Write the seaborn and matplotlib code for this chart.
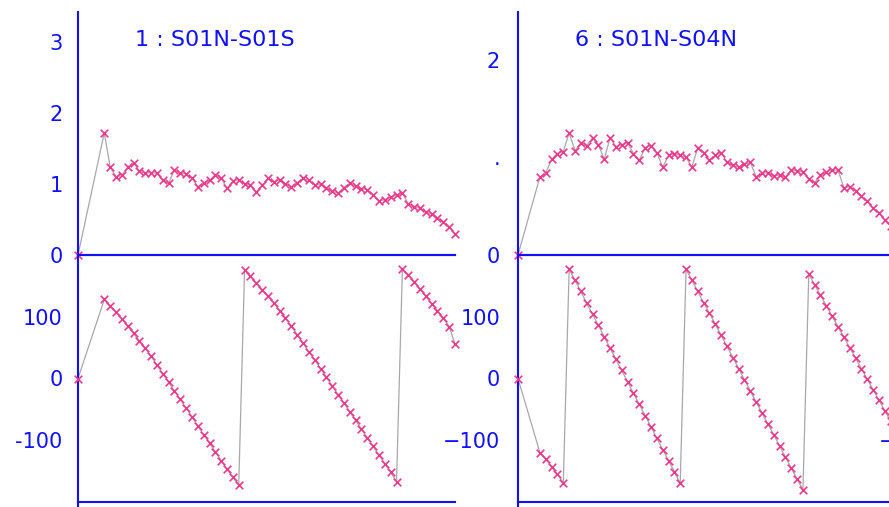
import matplotlib
matplotlib.use("Agg")
import matplotlib.pyplot as plt
import matplotlib.lines as mlines
import pandas as pd
import seaborn as sns

# ---- data -----------------------------------------------------------------
# Frequency bins: DC sample first, then unit steps from the first usable bin.
left_first_bin = 4.5
right_first_bin = 3.75

# Pair 1 : S01N-S01S
amp_pair1 = [
    0.00,
    1.72, 1.24, 1.10, 1.12, 1.24, 1.30, 1.18, 1.15, 1.16, 1.15,
    1.05, 1.01, 1.20, 1.15, 1.14, 1.08, 0.96, 1.02, 1.05, 1.13,
    1.08, 0.94, 1.04, 1.06, 1.00, 0.98, 0.89, 0.98, 1.08, 1.03,
    1.06, 1.00, 0.96, 1.02, 1.08, 1.05, 0.98, 1.00, 0.94, 0.90,
    0.87, 0.95, 1.01, 0.97, 0.93, 0.92, 0.85, 0.76, 0.78, 0.82,
    0.84, 0.87, 0.72, 0.68, 0.66, 0.60, 0.58, 0.52, 0.47, 0.40,
    0.30,
]
phase_pair1 = [
    0,
    128, 118, 107, 96, 85, 73, 61, 49, 36, 22,
    8, -6, -20, -34, -48, -62, -77, -91, -105, -119,
    -133, -147, -160, -172, 176, 166, 155, 144, 133, 122,
    110, 98, 85, 71, 57, 43, 30, 16, 2, -12,
    -26, -40, -54, -68, -82, -96, -110, -124, -138, -152,
    -167, 178, 168, 157, 145, 133, 121, 110, 98, 84,
    56,
]

# Pair 6 : S01N-S04N
amp_pair6 = [
    0.00,
    0.80, 0.84, 0.98, 1.04, 1.06, 1.25, 1.07, 1.15, 1.12, 1.20,
    1.13, 0.98, 1.20, 1.11, 1.13, 1.15, 1.04, 0.97, 1.10, 1.12,
    1.05, 0.90, 1.02, 1.04, 1.02, 1.00, 0.90, 1.10, 1.05, 0.97,
    1.02, 1.05, 0.95, 0.92, 0.90, 0.93, 0.95, 0.80, 0.84, 0.84,
    0.81, 0.82, 0.80, 0.87, 0.86, 0.85, 0.78, 0.74, 0.82, 0.85,
    0.87, 0.87, 0.69, 0.70, 0.66, 0.60, 0.55, 0.48, 0.43, 0.36,
    0.30,
]
phase_pair6 = [
    0,
    -120, -131, -143, -155, -169, 177, 159, 141, 122, 104,
    86, 68, 49, 31, 13, -5, -24, -42, -60, -78,
    -97, -115, -133, -151, -170, 177, 159, 141, 123, 106,
    88, 70, 52, 34, 16, -2, -20, -38, -56, -74,
    -91, -109, -127, -145, -163, -180, 169, 152, 135, 118,
    101, 84, 67, 50, 33, 16, -1, -18, -35, -52,
    -69,
]

panels = [
    dict(title="1 : S01N-S01S", first_bin=left_first_bin,
         amp=amp_pair1, phase=phase_pair1,
         amp_lim=(0, 3.42), amp_ticks=[0, 1, 2, 3], amp_labels=["0", "1", "2", "3"],
         phase_labels=["-100", "0", "100"]),
    dict(title="6 : S01N-S04N", first_bin=right_first_bin,
         amp=amp_pair6, phase=phase_pair6,
         amp_lim=(0, 2.49), amp_ticks=[0, 1, 2], amp_labels=["0", ".", "2"],
         phase_labels=["\u2212100", "0", "100"]),
]

# ---- style ----------------------------------------------------------------
sns.set_style("white")
plt.rcParams["font.family"] = ["DejaVu Sans"]

BLUE = "#1010ff"
PINK = "#ee3a8c"
GREY = "#a8a8a8"
W, H = 889, 507

fig = plt.figure(figsize=(W / 100, H / 100), dpi=100)
fig.patch.set_facecolor("white")


def frac_rect(x0, y_top, x1, y_bot):
    return [x0 / W, 1 - y_bot / H, (x1 - x0) / W, (y_bot - y_top) / H]


def style_axes(ax, pad):
    for side in ("left", "right", "top", "bottom"):
        ax.spines[side].set_visible(False)
    for side in ("left", "bottom"):
        ax.spines[side].set_visible(True)
        ax.spines[side].set_color(BLUE)
        ax.spines[side].set_linewidth(1.5)
    ax.tick_params(axis="y", length=0, pad=pad, labelsize=15, labelcolor=BLUE)
    ax.set_xticks([])
    ax.set_xlabel("")
    ax.set_ylabel("")
    ax.set_facecolor("none")


def draw_series(ax, df, col):
    sns.lineplot(data=df, x="freq", y=col, ax=ax, color=GREY, linewidth=0.9,
                 estimator=None, sort=False, legend=False, zorder=2)
    sns.scatterplot(data=df, x="freq", y=col, ax=ax, marker="x", color=PINK,
                    s=30, linewidth=1.2, legend=False, zorder=5, clip_on=False)


columns_x = [(78, 455), (518, 895)]
label_pads = [11, 13]

for (x0, x1), pad, p in zip(columns_x, label_pads, panels):
    n = len(p["amp"])
    freq = [0.0] + [p["first_bin"] + i for i in range(n - 1)]
    df = pd.DataFrame({"freq": freq, "amp": p["amp"], "phase": p["phase"]})

    ax_a = fig.add_axes(frac_rect(x0, 12, x1, 255))
    ax_p = fig.add_axes(frac_rect(x0, 255, x1, 502))

    draw_series(ax_a, df, "amp")
    draw_series(ax_p, df, "phase")

    for ax in (ax_a, ax_p):
        ax.set_xlim(0, 64.5)
        style_axes(ax, pad)

    ax_a.set_ylim(*p["amp_lim"])
    ax_a.set_yticks(p["amp_ticks"])
    ax_a.set_yticklabels(p["amp_labels"])

    ax_p.set_ylim(-200, 200)
    ax_p.set_yticks([-100, 0, 100])
    ax_p.set_yticklabels(p["phase_labels"])
    ax_p.spines["top"].set_visible(True)
    ax_p.spines["top"].set_color(BLUE)
    ax_p.spines["top"].set_linewidth(1.5)
    # vertical axis runs on below the lower frame
    ax_p.add_line(mlines.Line2D([0, 0], [-0.03, 0], transform=ax_p.transAxes,
                                color=BLUE, linewidth=1.5, clip_on=False))

    fig.text((x0 + 57) / W, 1 - 40 / H, p["title"], color=BLUE, fontsize=16,
             ha="left", va="center")

# label of the next column's phase axis, running off the right edge
fig.text(879 / W, 1 - 442 / H, "\u2212100", color=BLUE, fontsize=15,
         ha="left", va="center")

fig.savefig("out.png", dpi=100, facecolor="white")
